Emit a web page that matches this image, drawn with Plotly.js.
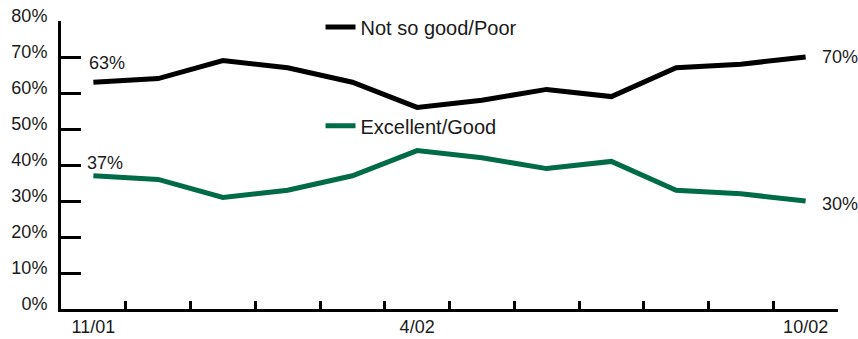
<!DOCTYPE html>
<html>
<head>
<meta charset="utf-8">
<script src="https://cdn.plot.ly/plotly-3.0.1.min.js"></script>
<style>
  html, body { margin: 0; padding: 0; background: #ffffff; }
  #chart { width: 858px; height: 339px; }
</style>
</head>
<body>
<div id="chart"></div>
<script>
// Survey months, Nov 2001 through Oct 2002
const months = ['11/01', '12/01', '1/02', '2/02', '3/02', '4/02',
                '5/02', '6/02', '7/02', '8/02', '9/02', '10/02'];
// Share rating conditions "Not so good/Poor" (%)
const notSoGoodPoor = [63, 64, 69, 67, 63, 56, 58, 61, 59, 67, 68, 70];
// Share rating conditions "Excellent/Good" (%)
const excellentGood = [37, 36, 31, 33, 37, 44, 42, 39, 41, 33, 32, 30];
// Months that carry an axis label
const labeledMonths = ['11/01', '4/02', '10/02'];
const yTickVals = [0, 10, 20, 30, 40, 50, 60, 70, 80];

const BLACK = '#000000';
const GREEN = '#006B47';
const TEXT = '#1a1a1a';
const FONT = 'Liberation Sans, Arial, sans-serif';

const idx = months.map((_, i) => i);
const boundaries = months.map((_, i) => i - 0.5).concat([months.length - 0.5]);
const labelPos = labeledMonths.map(m => months.indexOf(m));

const traces = [
  {
    x: idx, y: notSoGoodPoor, name: 'Not so good/Poor',
    type: 'scatter', mode: 'lines',
    line: { color: BLACK, width: 5 },
    legend: 'legend', hoverinfo: 'skip'
  },
  {
    x: idx, y: excellentGood, name: 'Excellent/Good',
    type: 'scatter', mode: 'lines',
    line: { color: GREEN, width: 5 },
    legend: 'legend2', hoverinfo: 'skip'
  },
  // invisible carrier for the month labels on the second x axis
  {
    x: labelPos, y: labelPos.map(() => null), xaxis: 'x2',
    type: 'scatter', mode: 'lines', showlegend: false, hoverinfo: 'skip'
  }
];

const last = months.length - 1;
const endLabels = [
  { x: 0, y: notSoGoodPoor[0], xshift: -6, yshift: 19, xanchor: 'left' },
  { x: 0, y: excellentGood[0], xshift: -8, yshift: 13, xanchor: 'left' },
  { x: last, y: notSoGoodPoor[last], xshift: 14, yshift: 0, xanchor: 'left' },
  { x: last, y: excellentGood[last], xshift: 14, yshift: -3, xanchor: 'left' }
].map(a => Object.assign({
  text: a.y + '%', showarrow: false, xref: 'x', yref: 'y',
  yanchor: 'middle', font: { family: FONT, size: 18, color: TEXT }
}, a));

const layout = {
  width: 858, height: 339,
  margin: { l: 61, r: 20, t: 21, b: 30, pad: 0, autoexpand: false },
  paper_bgcolor: '#ffffff', plot_bgcolor: '#ffffff',
  font: { family: FONT, size: 18, color: TEXT },
  xaxis: {
    range: [-0.5, months.length - 0.5],
    tickmode: 'array', tickvals: boundaries,
    showticklabels: false,
    ticks: 'inside', ticklen: 8, tickwidth: 3, tickcolor: BLACK,
    showline: true, linecolor: BLACK, linewidth: 3,
    showgrid: false, zeroline: false, fixedrange: true
  },
  xaxis2: {
    overlaying: 'x', side: 'bottom',
    range: [-0.5, months.length - 0.5],
    tickmode: 'array', tickvals: labelPos, ticktext: labeledMonths,
    ticks: '', showline: false, showgrid: false, zeroline: false,
    tickfont: { family: FONT, size: 18, color: TEXT },
    ticklabelstandoff: 5,
    fixedrange: true
  },
  yaxis: {
    range: [0, 80],
    tickmode: 'array', tickvals: yTickVals,
    ticktext: yTickVals.map(v => v + '%'),
    ticks: 'inside', ticklen: 20, tickwidth: 3, tickcolor: BLACK,
    showline: true, linecolor: BLACK, linewidth: 3,
    showgrid: false, zeroline: false,
    tickfont: { family: FONT, size: 18, color: TEXT },
    ticklabelshift: -5,
    ticklabelstandoff: 7,
    fixedrange: true
  },
  legend: {
    x: 0.334, xanchor: 'left', y: 0.979, yanchor: 'middle',
    bgcolor: 'rgba(0,0,0,0)', borderwidth: 0,
    font: { family: FONT, size: 20, color: TEXT }
  },
  legend2: {
    x: 0.334, xanchor: 'left', y: 0.636, yanchor: 'middle',
    bgcolor: 'rgba(0,0,0,0)', borderwidth: 0,
    font: { family: FONT, size: 20, color: TEXT }
  },
  annotations: endLabels,
  showlegend: true
};

Plotly.newPlot('chart', traces, layout, { displayModeBar: false, staticPlot: true });
</script>
</body>
</html>
